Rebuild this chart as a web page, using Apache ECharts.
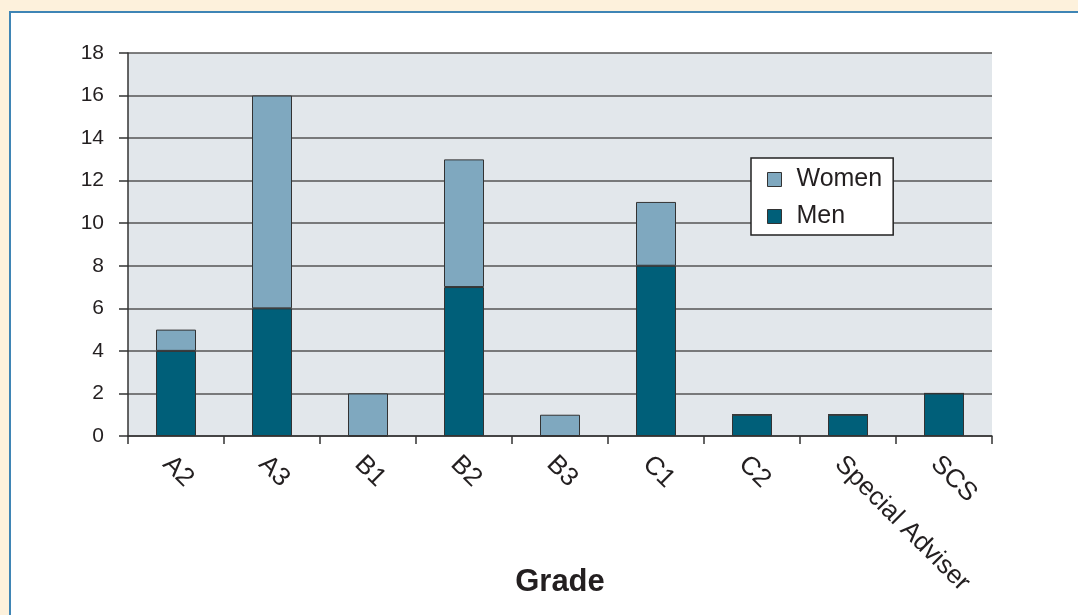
<!DOCTYPE html>
<html>
<head>
<meta charset="utf-8">
<script src="https://cdn.jsdelivr.net/npm/echarts@6/dist/echarts.min.js"></script>
<style>
html, body {
  margin: 0;
  padding: 0;
  background-color: #fdf1dc;
}
#frame {
  position: absolute;
  left: 9px;
  top: 11px;
  width: 1067px;
  height: 602px;
  background-color: #fff;
  border-left: 2px solid #3f85b5;
  border-top: 2px solid #3f85b5;
}
#chart {
  position: absolute;
  left: 0;
  top: 0;
  width: 1078px;
  height: 615px;
}
</style>
</head>
<body>
<div id="frame"></div>
<div id="chart"></div>
<script>
const grades = ["A2", "A3", "B1", "B2", "B3", "C1", "C2", "Special Adviser", "SCS"];
const men = [4, 6, 0, 7, 0, 8, 1, 1, 2];
const women = [1, 10, 2, 6, 1, 3, 0, 0, 0];

const font = "Liberation Sans, Arial, Helvetica, sans-serif";
const textColor = "#231f20";

const myChart = echarts.init(document.getElementById("chart"));
const option = {
  backgroundColor: "transparent",
  animation: false,
  textStyle: { fontFamily: font },
  grid: {
    left: 128,
    right: 86,
    top: 53,
    bottom: 179,
    show: true,
    backgroundColor: "#e2e7eb",
    borderWidth: 0,
    containLabel: false,
    outerBoundsMode: "none",
  },
  legend: {
    data: ["Women", "Men"],
    orient: "vertical",
    left: 751,
    top: 158,
    backgroundColor: "#fff",
    borderColor: "#222",
    borderWidth: 1.5,
    borderRadius: 0,
    padding: [9, 11, 6, 16],
    icon: "rect",
    itemWidth: 14,
    itemHeight: 14,
    itemGap: 12,
    itemStyle: { borderColor: "#333", borderWidth: 1 },
    textStyle: {
      fontSize: 25,
      color: textColor,
      fontFamily: font,
      padding: [0, 0, 0, 10],
    },
  },
  xAxis: {
    type: "category",
    data: grades,
    name: "Grade",
    nameLocation: "middle",
    nameGap: 131,
    nameMoveOverlap: false,
    nameTextStyle: { fontSize: 31, fontWeight: "bold", color: textColor, fontFamily: font },
    axisLine: { lineStyle: { color: "#333", width: 1.5 } },
    axisTick: { show: true, length: 8, lineStyle: { color: "#333", width: 1.5 } },
    axisLabel: {
      rotate: -45,
      fontSize: 26,
      color: textColor,
      margin: 15,
      interval: 0,
      verticalAlign: "top",
    },
  },
  yAxis: {
    type: "value",
    min: 0,
    max: 18,
    interval: 2,
    axisLine: { show: true, lineStyle: { color: "#333", width: 1.5 } },
    axisTick: { show: true, length: 9, lineStyle: { color: "#333", width: 1.5 } },
    axisLabel: { fontSize: 21, color: textColor, margin: 24 },
    splitLine: { lineStyle: { color: "#555", width: 1.5 } },
  },
  series: [
    {
      name: "Men",
      type: "bar",
      stack: "total",
      data: men,
      barWidth: 40,
      itemStyle: { color: "#005f79", borderColor: "#333", borderWidth: 1 },
    },
    {
      name: "Women",
      type: "bar",
      stack: "total",
      data: women,
      barWidth: 40,
      itemStyle: { color: "#7fa8bf", borderColor: "#333", borderWidth: 1 },
    },
  ],
};
myChart.setOption(option);
</script>
</body>
</html>
